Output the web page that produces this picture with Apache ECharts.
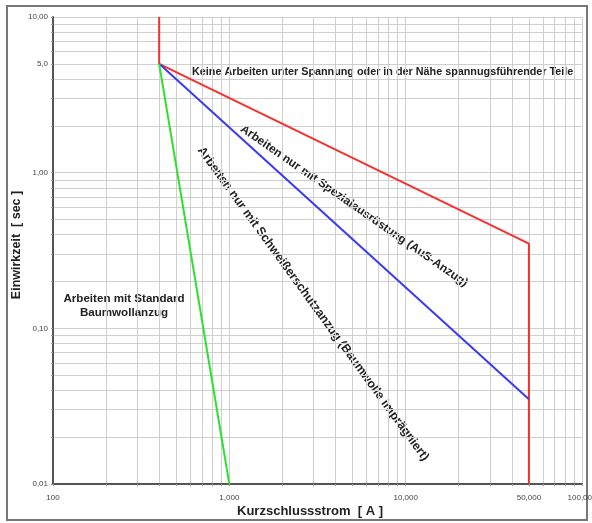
<!DOCTYPE html>
<html>
<head>
<meta charset="utf-8">
<script src="https://cdn.jsdelivr.net/npm/echarts@6/dist/echarts.min.js"></script>
<style>
  html, body { margin: 0; padding: 0; background: #fff; }
  #chart { width: 592px; height: 523px; }
</style>
</head>
<body>
<div id="chart"></div>
<script>
// Kurzschlussstrom [A] / Einwirkzeit [sec]
const xTickValues = [100, 1000, 10000, 50000, 100000];
const xTickLabels = ['100', '1,000', '10,000', '50,000', '100,000'];
const yTickValues = [0.01, 0.1, 1, 5, 10];
const yTickLabels = ['0,01', '0,10', '1,00', '5,0', '10,00'];

// Grenzkurven
const redLine = [[400, 10], [400, 5], [50000, 0.35], [50000, 0.01]];
const blueLine = [[400, 5], [50000, 0.035]];
const greenLine = [[400, 5], [1000, 0.01]];

// Gitterlinien (log-Raster 1..9 je Dekade)
const xGrid = [];
[100, 1000, 10000].forEach(d => { for (let k = 1; k < 10; k++) xGrid.push(k * d); });
xGrid.push(100000);
const yGrid = [];
[0.01, 0.1, 1].forEach(d => { for (let k = 1; k < 10; k++) yGrid.push(+(k * d).toFixed(4)); });
yGrid.push(10);

function pick(values, labels) {
  return function (v) {
    const i = values.findIndex(t => Math.abs(t - v) / t < 1e-6);
    return i >= 0 ? labels[i] : '';
  };
}

const chart = echarts.init(document.getElementById('chart'), null, { renderer: 'canvas' });
const fontFam = '"Liberation Sans", Arial, sans-serif';
const textCol = '#222';

const option = {
  backgroundColor: '#ffffff',
  animation: false,
  grid: { left: 53, right: 10, top: 17, bottom: 39, outerBoundsMode: 'none', containLabel: false },
  xAxis: {
    type: 'log', logBase: 10, min: 100, max: 100000,
    axisLine: { lineStyle: { color: '#555', width: 2 } },
    axisTick: { show: true, length: 2, customValues: xGrid, lineStyle: { color: '#999' } },
    axisLabel: {
      customValues: xTickValues, formatter: pick(xTickValues, xTickLabels),
      fontSize: 8, color: '#444', fontFamily: fontFam, margin: 10, hideOverlap: false
    },
    splitLine: { show: true, lineStyle: { color: '#cfcfcf', width: 1 } },
    minorTick: { show: false }
  },
  yAxis: {
    type: 'log', logBase: 10, min: 0.01, max: 10,
    axisLine: { show: true, lineStyle: { color: '#555', width: 2 } },
    axisTick: { show: true, length: 2, customValues: yGrid, lineStyle: { color: '#999' } },
    axisLabel: {
      customValues: yTickValues, formatter: pick(yTickValues, yTickLabels),
      fontSize: 8, color: '#444', fontFamily: fontFam, margin: 5, hideOverlap: false
    },
    splitLine: { show: true, lineStyle: { color: '#cfcfcf', width: 1 } }
  },
  series: [
    { type: 'line', data: redLine, symbol: 'none', lineStyle: { color: '#f5302f', width: 2 }, z: 3 },
    { type: 'line', data: blueLine, symbol: 'none', lineStyle: { color: '#3a3af0', width: 2 }, z: 3 },
    { type: 'line', data: greenLine, symbol: 'none', lineStyle: { color: '#2fe02f', width: 2 }, z: 3 }
  ],
  graphic: [
    { type: 'rect', shape: { x: 7, y: 6, width: 580, height: 514 }, style: { fill: 'none', stroke: '#777', lineWidth: 2 }, silent: true },
    { type: 'text', x: 192, y: 72, style: { text: 'Keine Arbeiten unter Spannung oder in der Nähe spannugsführender Teile', font: 'bold 10.8px ' + fontFam, fill: textCol, verticalAlign: 'middle' } },
    { type: 'text', x: 354, y: 206, rotation: -34.8 * Math.PI / 180, style: { text: 'Arbeiten nur mit Spezialausrüstung (AuS-Anzug)', font: 'bold 11.8px ' + fontFam, fill: textCol, align: 'center', verticalAlign: 'middle' } },
    { type: 'text', x: 313, y: 304, rotation: -54 * Math.PI / 180, style: { text: 'Arbeiten nur mit Schweißerschutzanzug (Baumwolle imprägniert)', font: 'bold 12.4px ' + fontFam, fill: textCol, align: 'center', verticalAlign: 'middle' } },
    { type: 'text', x: 124, y: 306, style: { text: 'Arbeiten mit Standard\nBaumwollanzug', font: 'bold 11.6px ' + fontFam, fill: textCol, align: 'center', verticalAlign: 'middle', lineHeight: 14 } },
    { type: 'text', x: 17, y: 245, rotation: Math.PI / 2, style: { text: 'Einwirkzeit  [ sec ]', font: 'bold 12.5px ' + fontFam, fill: textCol, align: 'center', verticalAlign: 'middle' } },
    { type: 'text', x: 310, y: 511, style: { text: 'Kurzschlussstrom  [ A ]', font: 'bold 13px ' + fontFam, fill: textCol, align: 'center', verticalAlign: 'middle' } }
  ]
};
chart.setOption(option);
</script>
</body>
</html>
